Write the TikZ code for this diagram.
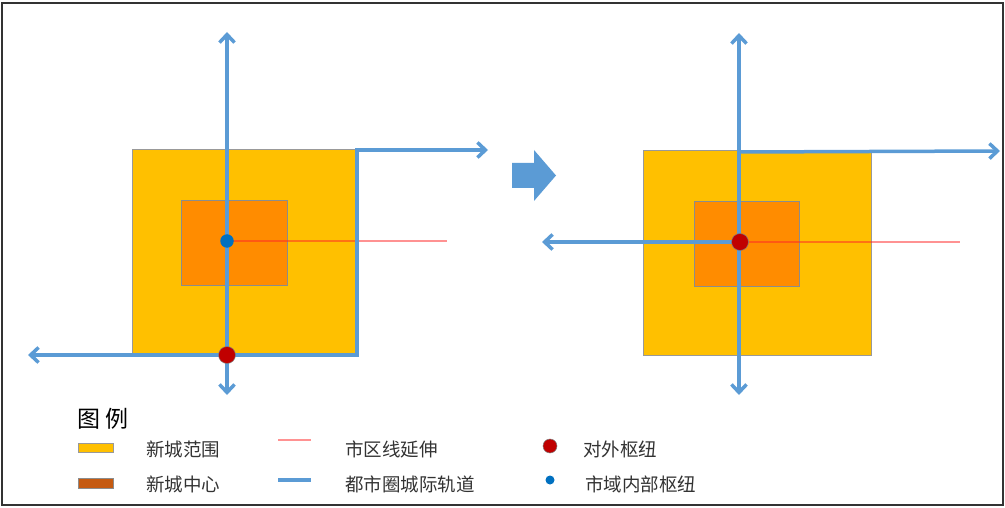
\documentclass[tikz,border=0pt]{standalone}
\usepackage{fontspec}
\setmainfont{Noto Sans CJK SC}
\usetikzlibrary{arrows.meta}
\definecolor{railblue}{RGB}{91,155,213}
\definecolor{areayellow}{RGB}{255,192,0}
\definecolor{coreorange}{RGB}{255,140,0}
\definecolor{keybrown}{RGB}{197,90,17}
\definecolor{hubred}{RGB}{192,0,0}
\definecolor{hubblue}{RGB}{0,112,192}
\tikzstyle{frame}=[draw=black!80,line width=1.3pt]
\tikzstyle{cityarea}=[rectangle,draw=black!40,fill=areayellow,inner sep=0pt,line width=0.8pt]
\tikzstyle{citycore}=[rectangle,draw=black!45,fill=coreorange,inner sep=0pt,line width=0.8pt]
\tikzstyle{rail}=[draw=railblue,line width=3.5pt,>={Straight Barb[length=8pt,width=15pt]}]
\tikzstyle{extension}=[draw=red!85,opacity=0.5,line width=1.5pt]
\tikzstyle{outerhub}=[circle,fill=hubred,draw=black!50,line width=0.5pt,inner sep=0pt,minimum size=17pt]
\tikzstyle{localhub}=[circle,fill=hubblue,inner sep=0pt,minimum size=13.5pt]
\tikzstyle{legendtext}=[anchor=west,inner sep=0pt,text=black!80,font=\fontsize{18.5}{18.5}\selectfont]

\begin{document}
\begin{tikzpicture}[x=1pt,y=-1pt]
    \useasboundingbox (0,0) rectangle (1005,508);
    \draw [frame] (2,3) rectangle (1003,505);

    % before
    \node (areaL) at (244.5,251.5) [cityarea,minimum width=225pt,minimum height=205pt] {};
    \node (coreL) at (234,243) [citycore,minimum width=106pt,minimum height=85pt] {};
    \coordinate (hubL) at (227,241);
    \coordinate (gateL) at (227,355);
    \coordinate (nL) at (227,32);
    \coordinate (sL) at (227,395);
    \coordinate (wL) at (28,355);
    \coordinate (cornerL) at (357,355);
    \coordinate (topL) at (357,150);
    \coordinate (eL) at (488,150);
    \coordinate (mL) at (447,241);

    \draw [extension] (hubL) -- (mL);
    \draw [rail,<->] (nL) -- (sL);
    \draw [rail,<->] (wL) -- (cornerL) -- (topL) -- (eL);
    \node (localL) at (hubL) [localhub] {};
    \node (outerL) at (gateL) [outerhub] {};

    % step
    \fill [railblue] (512,163) -- (534,163) -- (534,150) -- (556,175.5)
        -- (534,201) -- (534,188) -- (512,188) -- cycle;

    % after
    \node (areaR) at (757,252.5) [cityarea,minimum width=228pt,minimum height=205pt] {};
    \node (coreR) at (746.5,244) [citycore,minimum width=105pt,minimum height=85pt] {};
    \coordinate (hubR) at (740,242);
    \coordinate (nR) at (739,33);
    \coordinate (sR) at (739,395);
    \coordinate (wR) at (542,242);
    \coordinate (mR) at (960,242);
    \coordinate (topR) at (739,152);
    \coordinate (eR) at (1000,151);

    \draw [extension] (hubR) -- (mR);
    \draw [rail,<->] (nR) -- (sR);
    \draw [rail,->] (hubR) -- (wR);
    \draw [rail,->] (topR) -- (eR);
    \node (outerR) at (hubR) [outerhub] {};

    % legend
    \node (legendtitle) at (77,419) [anchor=west,inner sep=0pt,font=\fontsize{23}{23}\selectfont] {图 例};
    \node (keyarea) at (95.5,447.5) [cityarea,minimum width=35pt,minimum height=9pt] {};
    \node (keycore) at (95.5,483) [citycore,fill=keybrown,minimum width=35pt,minimum height=10pt] {};
    \draw [extension] (278,440) -- (311,440);
    \draw [draw=railblue,line width=4pt] (278,480) -- (311,480);
    \node (keyouter) at (550,446) [outerhub,minimum size=14pt] {};
    \node (keylocal) at (550,480) [localhub,minimum size=9pt] {};
    \node (areatext) at (146,449) [legendtext] {新城范围};
    \node (coretext) at (146,484) [legendtext] {新城中心};
    \node (exttext) at (345,449) [legendtext] {市区线延伸};
    \node (railtext) at (345,484) [legendtext] {都市圈城际轨道};
    \node (outertext) at (583,449) [legendtext] {对外枢纽};
    \node (localtext) at (585,484) [legendtext] {市域内部枢纽};
\end{tikzpicture}
\end{document}
